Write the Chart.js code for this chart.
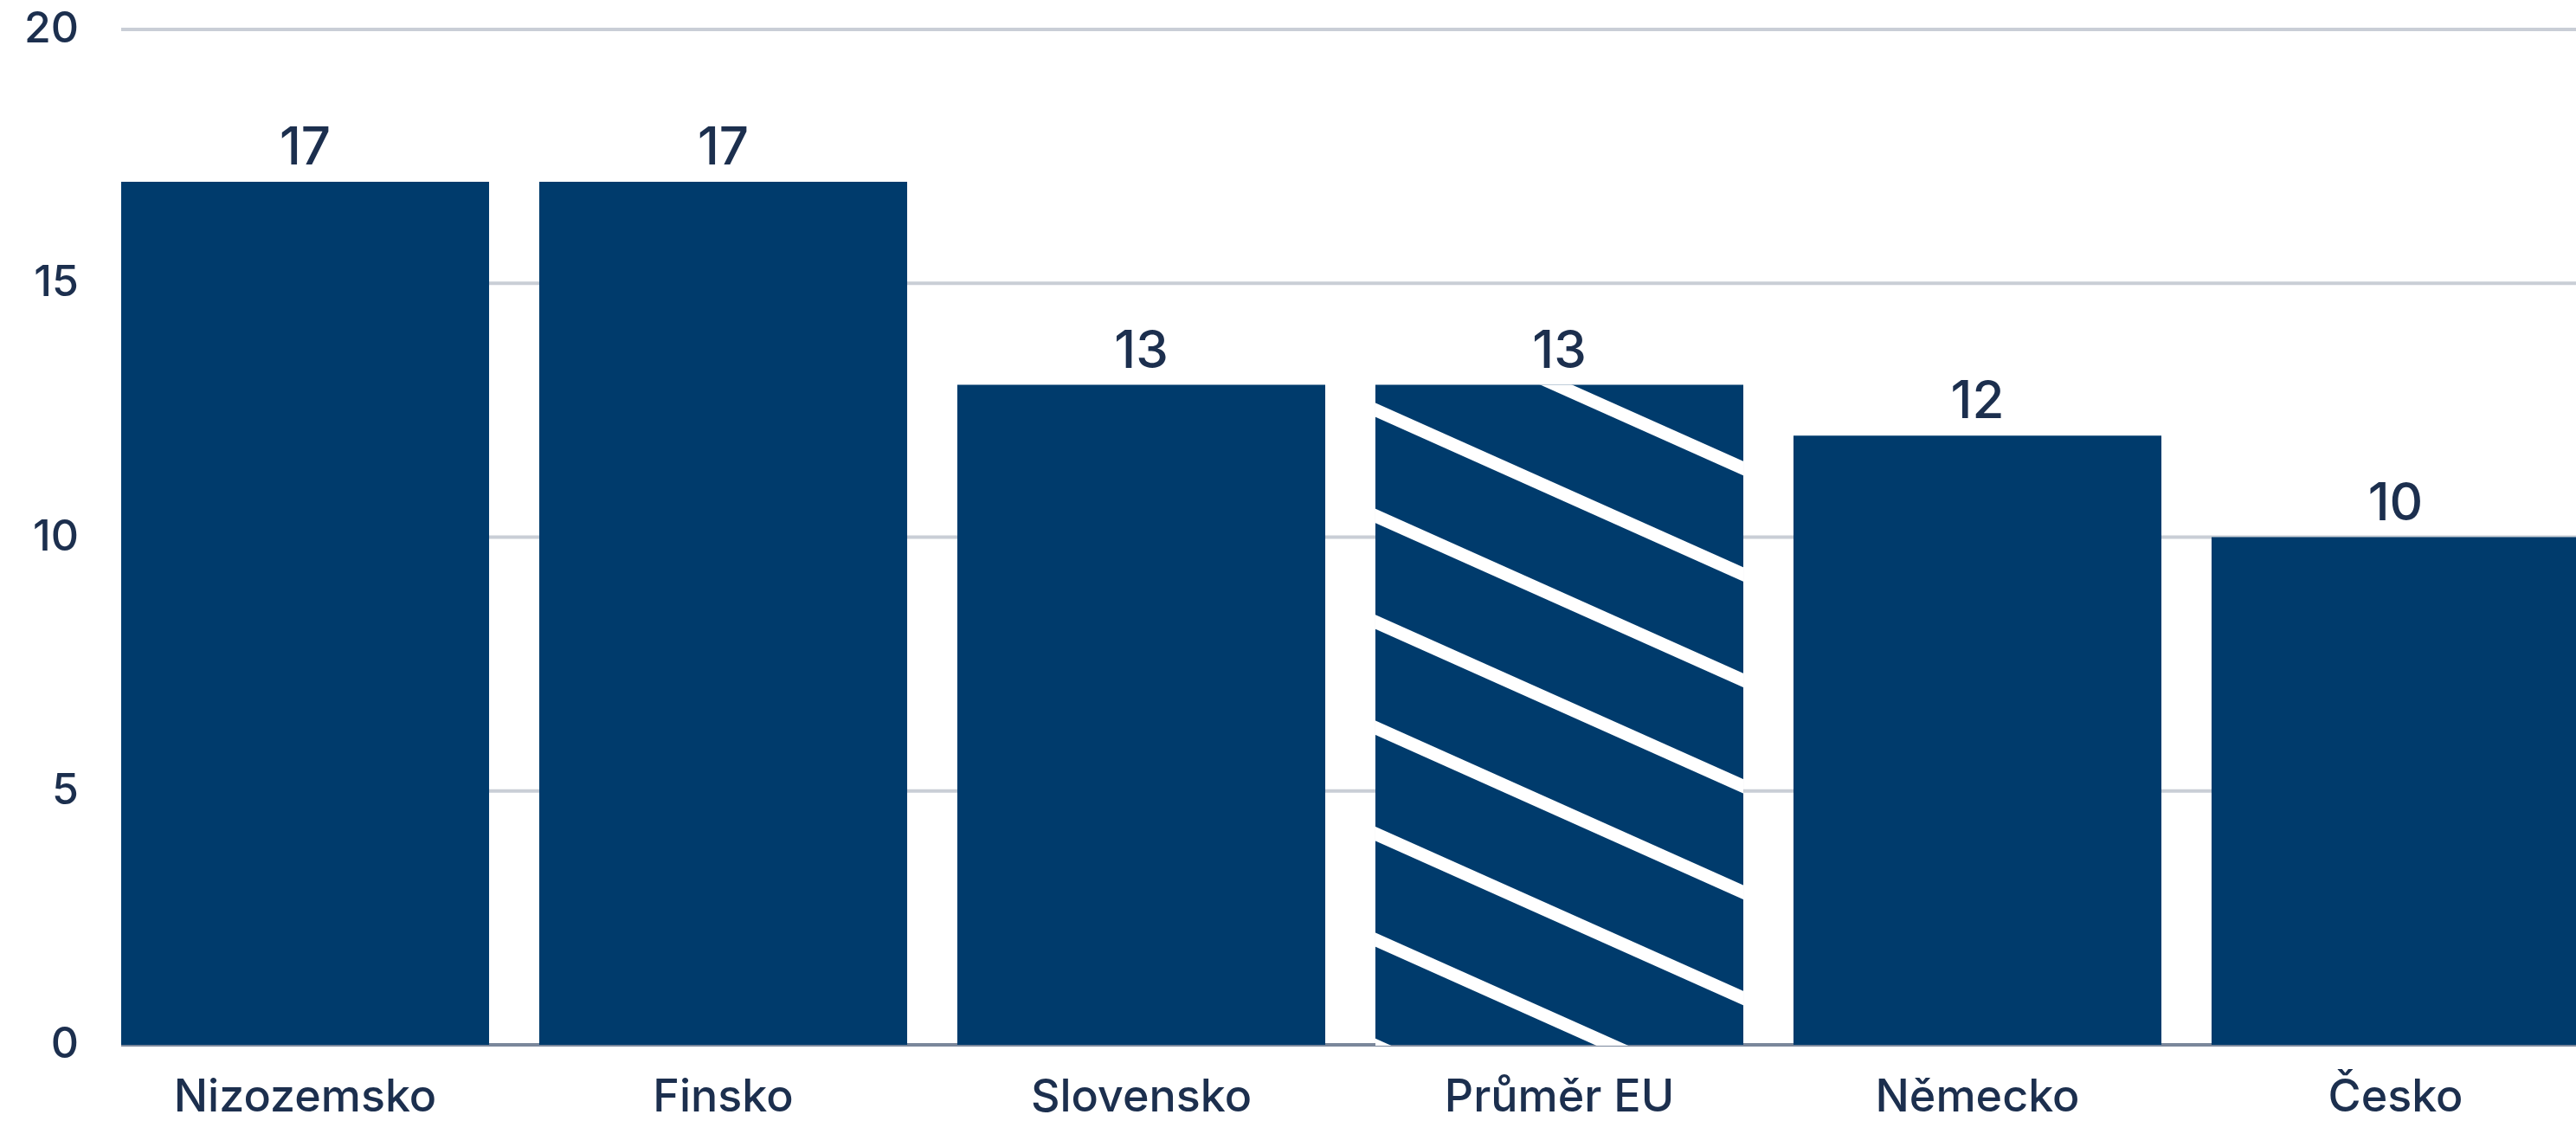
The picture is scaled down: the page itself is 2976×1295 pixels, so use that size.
<!DOCTYPE html>
<html lang="cs">
<head>
<meta charset="utf-8">
<title>Graf</title>
<script src="https://cdn.jsdelivr.net/npm/chart.js@4"></script>
<style>
  html, body { margin: 0; padding: 0; background: #fff; overflow: hidden; }
  #wrap { width: 3009px; height: 1295px; position: relative; }
</style>
</head>
<body>
<div id="wrap"><canvas id="chart"></canvas></div>
<script>
/* ---------- Data ---------- */
const categories = ["Nizozemsko", "Finsko", "Slovensko", "Průměr EU", "Německo", "Česko"];
const values = [17, 17, 13, 13, 12, 10];
const yTicks = [0, 5, 10, 15, 20];
const hatchedIndex = 3; // Průměr EU

/* ---------- Style ---------- */
const BAR = "#003b6c";
const TEXT = "#1c2f4e";
const GRID = "#c9ced6";
const BASE = "#7a879b";
const FONT = "Inter, 'Noto Sans', sans-serif";

/* ---------- Plugins ---------- */
// grid lines start at the first bar's left edge, not at the chart area edge
const gridPlugin = {
  id: "grid",
  beforeDatasetsDraw(chart) {
    const { ctx, chartArea, scales } = chart;
    const first = chart.getDatasetMeta(0).data[0];
    const left = first.x - first.width / 2;
    ctx.save();
    ctx.lineWidth = 4;
    yTicks.forEach(t => {
      const y = scales.y.getPixelForValue(t);
      ctx.strokeStyle = t === 0 ? BASE : GRID;
      ctx.beginPath();
      ctx.moveTo(left, y);
      ctx.lineTo(chartArea.right, y);
      ctx.stroke();
    });
    ctx.restore();
  }
};

// white diagonal stripes on the EU average bar
const hatchPlugin = {
  id: "hatch",
  afterDatasetsDraw(chart) {
    const { ctx } = chart;
    const bar = chart.getDatasetMeta(0).data[hatchedIndex];
    const left = bar.x - bar.width / 2;
    const right = bar.x + bar.width / 2;
    const slope = 0.447, step = 122.4;
    ctx.save();
    ctx.beginPath();
    ctx.rect(left, bar.y, bar.width, bar.base - bar.y + 1);
    ctx.clip();
    ctx.strokeStyle = "#ffffff";
    ctx.lineWidth = 15;
    for (let k = -5; k < 12; k++) {
      const y0 = bar.y + 29 + k * step;
      ctx.beginPath();
      ctx.moveTo(left - 10, y0 - 10 * slope);
      ctx.lineTo(right + 10, y0 + (bar.width + 10) * slope);
      ctx.stroke();
    }
    ctx.restore();
  }
};

// value labels above bars
const valuePlugin = {
  id: "values",
  afterDatasetsDraw(chart) {
    const { ctx } = chart;
    ctx.save();
    ctx.fillStyle = TEXT;
    ctx.font = "500 60px " + FONT;
    ctx.textAlign = "center";
    ctx.textBaseline = "alphabetic";
    chart.getDatasetMeta(0).data.forEach((bar, i) => {
      ctx.fillText(String(values[i]), bar.x, bar.y - 20);
    });
    ctx.restore();
  }
};

/* ---------- Chart ---------- */
new Chart(document.getElementById("chart"), {
  type: "bar",
  data: {
    labels: categories,
    datasets: [{
      data: values,
      backgroundColor: BAR,
      borderWidth: 0,
      categoryPercentage: 1,
      barPercentage: 0.88
    }]
  },
  options: {
    responsive: true,
    maintainAspectRatio: false,
    animation: false,
    layout: { padding: { top: 34, right: 0, bottom: 0, left: 0 } },
    plugins: {
      legend: { display: false },
      tooltip: { enabled: false }
    },
    scales: {
      x: {
        grid: { display: false, drawTicks: false },
        border: { display: false },
        ticks: {
          color: TEXT,
          font: { family: FONT, size: 52, weight: "500" },
          padding: 30,
          maxRotation: 0,
          autoSkip: false
        },
        afterFit: s => { s.height = 88; }
      },
      y: {
        min: 0,
        max: 20,
        grid: { display: false, drawTicks: false },
        border: { display: false },
        ticks: {
          stepSize: 5,
          color: TEXT,
          font: { family: FONT, size: 50, weight: "500" },
          padding: 20
        },
        afterFit: s => {
          s.width = 111;
          s.paddingTop = 0;
          s.paddingBottom = 0;
        }
      }
    }
  },
  plugins: [gridPlugin, hatchPlugin, valuePlugin]
});
</script>
</body>
</html>
